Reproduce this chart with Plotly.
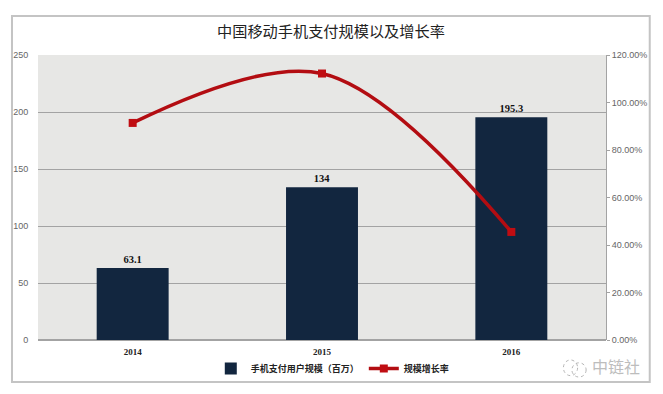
import plotly.graph_objects as go

years = ["2014", "2015", "2016"]
users = [63.1, 134, 195.3]
growth = [91.4, 112.2, 45.5]
bar_name = "手机支付用户规模（百万）"
line_name = "规模增长率"
title = "中国移动手机支付规模以及增长率"
FONT = "'Liberation Serif','Noto Sans CJK SC',serif"
GREY = "#a3a3a3"
TXT = "#666666"

fig = go.Figure()
fig.add_trace(go.Bar(x=years, y=users, name=bar_name, width=0.38,
                     marker=dict(color="#12263f", line=dict(width=0)),
                     text=[str(v) for v in users], textposition="outside", cliponaxis=False,
                     textfont=dict(family=FONT, size=10.5, color="#111111", weight="bold")))
fig.add_trace(go.Scatter(x=years, y=growth, name=line_name, yaxis="y2", mode="lines+markers",
                         line=dict(color="#b30d12", width=3.5, shape="spline", smoothing=1.0),
                         marker=dict(symbol="square", size=8, color="#c00d12")))
fig.update_layout(
    width=655, height=386, autosize=False,
    margin=dict(l=30, r=57, t=47, b=54, autoexpand=False),
    paper_bgcolor="white", plot_bgcolor="#e7e7e5",
    font=dict(family=FONT, size=9.5, color=TXT),
    title=dict(text=title, x=0.493, xanchor="center", y=0.938, yanchor="middle", xref="container",
               font=dict(family=FONT, size=15.2, color="#222222"), automargin=False),
    bargap=0.62, showlegend=True,
    legend=dict(orientation="h", x=0.519, xanchor="center", y=-0.10, yanchor="middle",
                font=dict(family=FONT, size=9, color="#222222", weight="bold"),
                itemwidth=30, bgcolor="rgba(0,0,0,0)"),
    xaxis=dict(type="category", showgrid=False, showline=False, ticks="outside", ticklen=3,
               tickcolor="rgba(0,0,0,0)", automargin=False,
               tickfont=dict(family=FONT, size=9, color="#222222", weight="bold")),
    yaxis=dict(range=[0, 250], tickvals=[0, 50, 100, 150, 200, 250], showgrid=True,
               gridcolor=GREY, gridwidth=1, zeroline=True, zerolinecolor=GREY, showline=False,
               ticks="outside", ticklen=7, tickcolor="rgba(0,0,0,0)", automargin=False,
               tickfont=dict(family="Liberation Sans", size=9, color=TXT)),
    yaxis2=dict(range=[0, 120], tickvals=[0, 20, 40, 60, 80, 100, 120],
                ticktext=["0.00%", "20.00%", "40.00%", "60.00%", "80.00%", "100.00%", "120.00%"],
                overlaying="y", side="right", showgrid=False, zeroline=False, showline=True,
                linecolor=GREY, ticks="outside", ticklen=3, tickcolor=GREY, automargin=False,
                tickfont=dict(family="Liberation Sans", size=9, color=TXT)),
)
fig.add_shape(type="rect", xref="paper", yref="paper", x0=-0.0458, x1=1.077, y0=-0.147, y1=1.137,
              line=dict(color="#c4c4c4", width=2), fillcolor="rgba(0,0,0,0)", layer="below")
for x0, x1, y0, y1 in [(0.925, 0.95, -0.125, -0.07), (0.94, 0.965, -0.13, -0.08)]:
    fig.add_shape(type="circle", xref="paper", yref="paper", x0=x0, x1=x1, y0=y0, y1=y1,
                  line=dict(color="#b5b5b5", width=1, dash="dot"))
fig.add_annotation(text="中链社", xref="paper", yref="paper", x=1.063, y=-0.091, xanchor="right",
                   yanchor="middle", showarrow=False,
                   font=dict(family="'Noto Sans CJK SC'", size=16, color="#bdbdbd"))
fig.write_html("out.html")
